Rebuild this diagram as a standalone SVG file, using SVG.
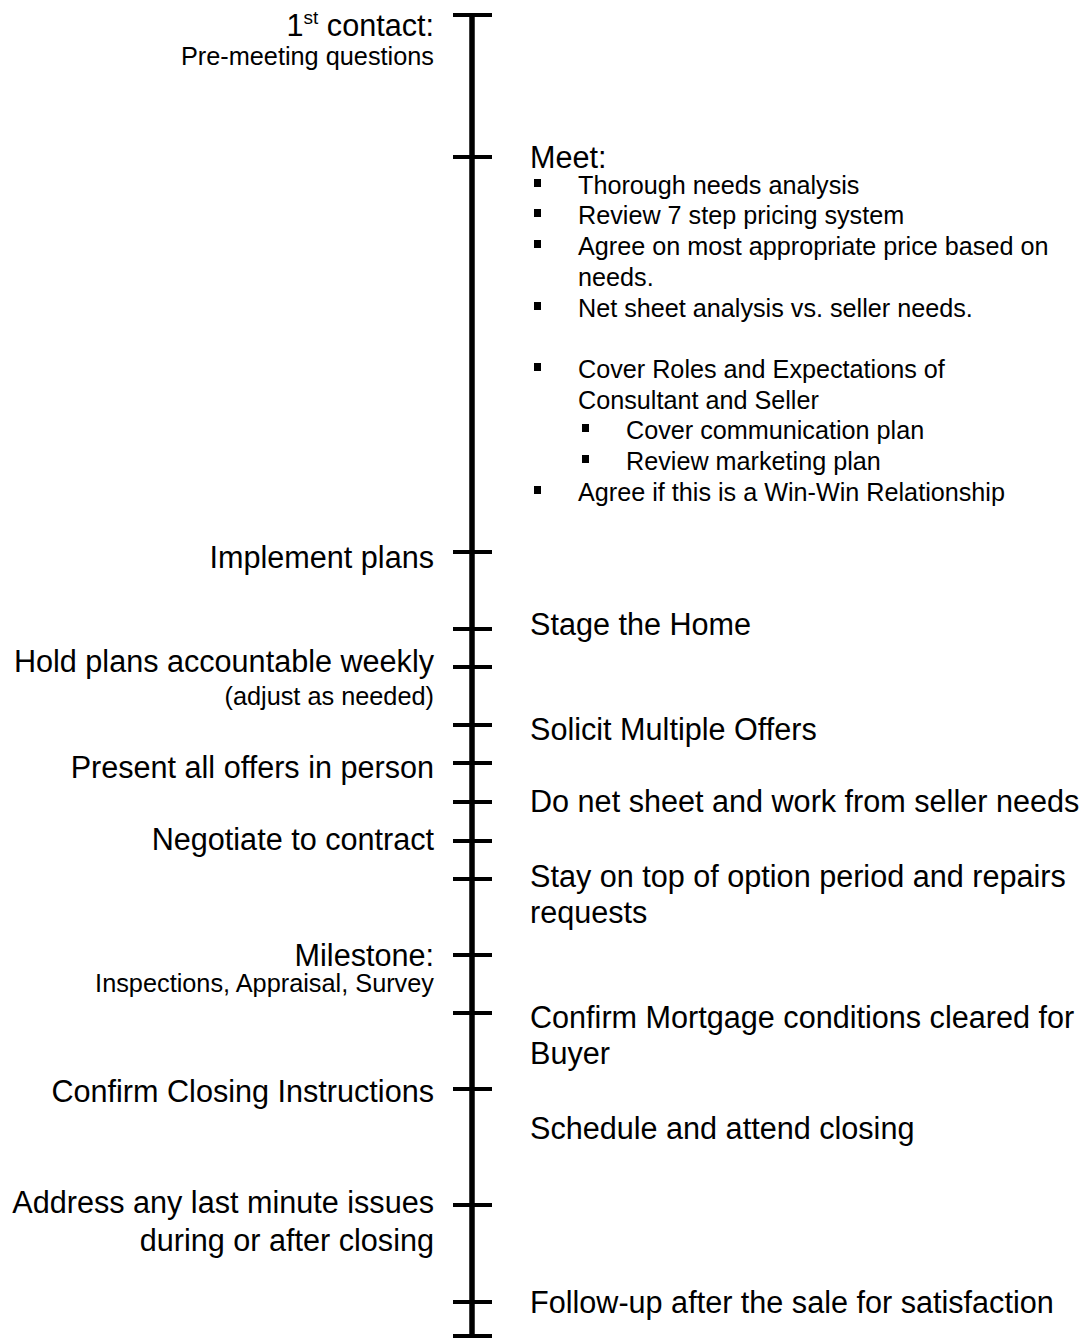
<svg xmlns="http://www.w3.org/2000/svg" width="1092" height="1339" viewBox="0 0 1092 1339">
<style>
text{font-family:"Liberation Sans",Arial,sans-serif;fill:#000}
.m{font-size:30.6px}
.s{font-size:25.3px}
.b{font-size:25.2px}
.l{text-anchor:end}
.tick{stroke:#000;stroke-width:4}
.axis{stroke:#000;stroke-width:5.5}
.sq{fill:#000}
</style>
<rect width="1092" height="1339" fill="#fff"/>
<g id="connectors">
<line class="axis" x1="472" y1="15" x2="472" y2="1336"/>
<line class="tick" x1="453" y1="15" x2="492" y2="15"/>
<line class="tick" x1="453" y1="157" x2="492" y2="157"/>
<line class="tick" x1="453" y1="552" x2="492" y2="552"/>
<line class="tick" x1="453" y1="629" x2="492" y2="629"/>
<line class="tick" x1="453" y1="667" x2="492" y2="667"/>
<line class="tick" x1="453" y1="725" x2="492" y2="725"/>
<line class="tick" x1="453" y1="763" x2="492" y2="763"/>
<line class="tick" x1="453" y1="802" x2="492" y2="802"/>
<line class="tick" x1="453" y1="841" x2="492" y2="841"/>
<line class="tick" x1="453" y1="879" x2="492" y2="879"/>
<line class="tick" x1="453" y1="955" x2="492" y2="955"/>
<line class="tick" x1="453" y1="1013" x2="492" y2="1013"/>
<line class="tick" x1="453" y1="1089" x2="492" y2="1089"/>
<line class="tick" x1="453" y1="1205" x2="492" y2="1205"/>
<line class="tick" x1="453" y1="1302" x2="492" y2="1302"/>
<line class="tick" x1="453" y1="1336" x2="492" y2="1336"/>
</g>
<g id="n-first-contact">
<text class="m l" x="434" y="36">1<tspan font-size="19" dy="-12">st</tspan><tspan dy="12"> contact:</tspan></text>
<text class="s l" x="434" y="65">Pre-meeting questions</text>
</g>
<g id="n-meet">
<text class="m" x="530" y="168">Meet:</text>
<rect class="sq" x="534" y="179" width="7" height="8"/>
<text class="b" x="578" y="194">Thorough needs analysis</text>
<rect class="sq" x="534" y="209" width="7" height="8"/>
<text class="b" x="578" y="224">Review 7 step pricing system</text>
<rect class="sq" x="534" y="240" width="7" height="8"/>
<text class="b" x="578" y="255">Agree on most appropriate price based on</text>
<text class="b" x="578" y="286">needs.</text>
<rect class="sq" x="534" y="302" width="7" height="8"/>
<text class="b" x="578" y="317">Net sheet analysis vs. seller needs.</text>
<rect class="sq" x="534" y="363" width="7" height="8"/>
<text class="b" x="578" y="378">Cover Roles and Expectations of</text>
<text class="b" x="578" y="409">Consultant and Seller</text>
<rect class="sq" x="582" y="424" width="7" height="8"/>
<text class="b" x="626" y="439">Cover communication plan</text>
<rect class="sq" x="582" y="455" width="7" height="8"/>
<text class="b" x="626" y="470">Review marketing plan</text>
<rect class="sq" x="534" y="486" width="7" height="8"/>
<text class="b" x="578" y="501">Agree if this is a Win-Win Relationship</text>
</g>
<g id="n-implement"><text class="m l" x="434" y="568">Implement plans</text></g>
<g id="n-stage"><text class="m" x="530" y="635">Stage the Home</text></g>
<g id="n-hold">
<text class="m l" x="434" y="672">Hold plans accountable weekly</text>
<text class="s l" x="434" y="705">(adjust as needed)</text>
</g>
<g id="n-solicit"><text class="m" x="530" y="740">Solicit Multiple Offers</text></g>
<g id="n-present"><text class="m l" x="434" y="778">Present all offers in person</text></g>
<g id="n-netsheet"><text class="m" x="530" y="812">Do net sheet and work from seller needs</text></g>
<g id="n-negotiate"><text class="m l" x="434" y="850">Negotiate to contract</text></g>
<g id="n-option">
<text class="m" x="530" y="887">Stay on top of option period and repairs</text>
<text class="m" x="530" y="923">requests</text>
</g>
<g id="n-milestone">
<text class="m l" x="434" y="966">Milestone:</text>
<text class="s l" x="434" y="992">Inspections, Appraisal, Survey</text>
</g>
<g id="n-mortgage">
<text class="m" x="530" y="1028">Confirm Mortgage conditions cleared for</text>
<text class="m" x="530" y="1064">Buyer</text>
</g>
<g id="n-closing-instr"><text class="m l" x="434" y="1102">Confirm Closing Instructions</text></g>
<g id="n-schedule"><text class="m" x="530" y="1139">Schedule and attend closing</text></g>
<g id="n-address">
<text class="m l" x="434" y="1213">Address any last minute issues</text>
<text class="m l" x="434" y="1251">during or after closing</text>
</g>
<g id="n-followup"><text class="m" x="530" y="1313">Follow-up after the sale for satisfaction</text></g>
</svg>
